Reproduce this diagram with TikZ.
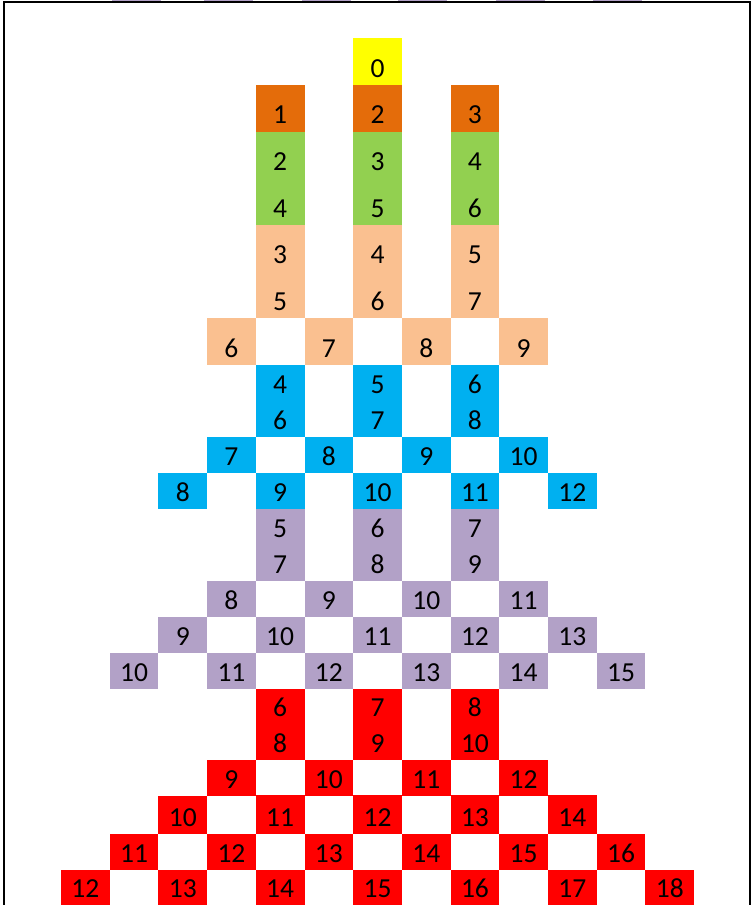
\documentclass[tikz,border=0pt]{standalone}
\usepackage{fontspec}
\setmainfont{Carlito}
\definecolor{yc}{HTML}{FFFF00}
\definecolor{oc}{HTML}{E46C0A}
\definecolor{gc}{HTML}{92D050}
\definecolor{pc}{HTML}{FAC090}
\definecolor{bc}{HTML}{00B0F0}
\definecolor{uc}{HTML}{B2A1C7}
\definecolor{rc}{HTML}{FF0000}
\tikzset{
  lab/.style={font=\fontsize{27.5}{30}\selectfont, anchor=base, inner sep=0pt, text=black},
  frame/.style={line width=2pt, line join=miter}
}
% #1 row id, #2 colour, #3 top, #4 bottom, #5 list k/label
\newcommand\cellrow[5]{%
  \foreach \k/\t in {#5} {
    \fill[#2] ({61+48.7*\k},#3) rectangle ({61+48.7*(\k+1)},#4);
    \node[lab] (r#1c\k) at ({61+48.7*(\k+0.5)},{#4-8}) {\t};
  }}
% #1 row id, #2 colour, #3 top, #4 middle, #5 bottom, #6 list k/label1/label2
\newcommand\cellblock[6]{%
  \foreach \k/\t/\u in {#6} {
    \fill[#2] ({61+48.7*\k},#3) rectangle ({61+48.7*(\k+1)},#5);
    \node[lab] (r#1ac\k) at ({61+48.7*(\k+0.5)},{#4-8}) {\t};
    \node[lab] (r#1bc\k) at ({61+48.7*(\k+0.5)},{#5-8}) {\u};
  }}
\begin{document}
\begin{tikzpicture}[x=1pt,y=-1pt]
\useasboundingbox (0,0) rectangle (751,905);
% cropped purple marks above the frame
\foreach \a in {112,204,302,398,496,593} {
  \fill[uc] (\a,0) rectangle ({\a+49},1.2);
}
% yellow
\cellrow{a}{yc}{38}{85}{6/0}
% orange
\cellrow{b}{oc}{85}{131.7}{4/1,6/2,8/3}
% green
\cellblock{c}{gc}{131.7}{178.3}{225}{4/2/4,6/3/5,8/4/6}
% peach
\cellblock{d}{pc}{225}{271.7}{318.3}{4/3/5,6/4/6,8/5/7}
\cellrow{e}{pc}{318.3}{365}{3/6,5/7,7/8,9/9}
% blue
\cellblock{f}{bc}{365}{401}{437}{4/4/6,6/5/7,8/6/8}
\cellrow{g}{bc}{437}{473}{3/7,5/8,7/9,9/10}
\cellrow{h}{bc}{473}{509}{2/8,4/9,6/10,8/11,10/12}
% purple
\cellblock{i}{uc}{509}{545}{581}{4/5/7,6/6/8,8/7/9}
\cellrow{j}{uc}{581}{617}{3/8,5/9,7/10,9/11}
\cellrow{k}{uc}{617}{653}{2/9,4/10,6/11,8/12,10/13}
\cellrow{l}{uc}{653}{689}{1/10,3/11,5/12,7/13,9/14,11/15}
% red
\cellblock{m}{rc}{689}{724.5}{760}{4/6/8,6/7/9,8/8/10}
\cellrow{n}{rc}{760}{796}{3/9,5/10,7/11,9/12}
\cellrow{o}{rc}{796}{834}{2/10,4/11,6/12,8/13,10/14}
\cellrow{p}{rc}{834}{870}{1/11,3/12,5/13,7/14,9/15,11/16}
\cellrow{q}{rc}{870}{905}{0/12,2/13,4/14,6/15,8/16,10/17,12/18}
\draw[rc, line width=1.2pt] (255.8,795.6) -- (596.7,795.6);
% frame
\draw[frame] (4,905) -- (4,2) -- (749.8,2) -- (749.8,905);
\end{tikzpicture}
\end{document}
